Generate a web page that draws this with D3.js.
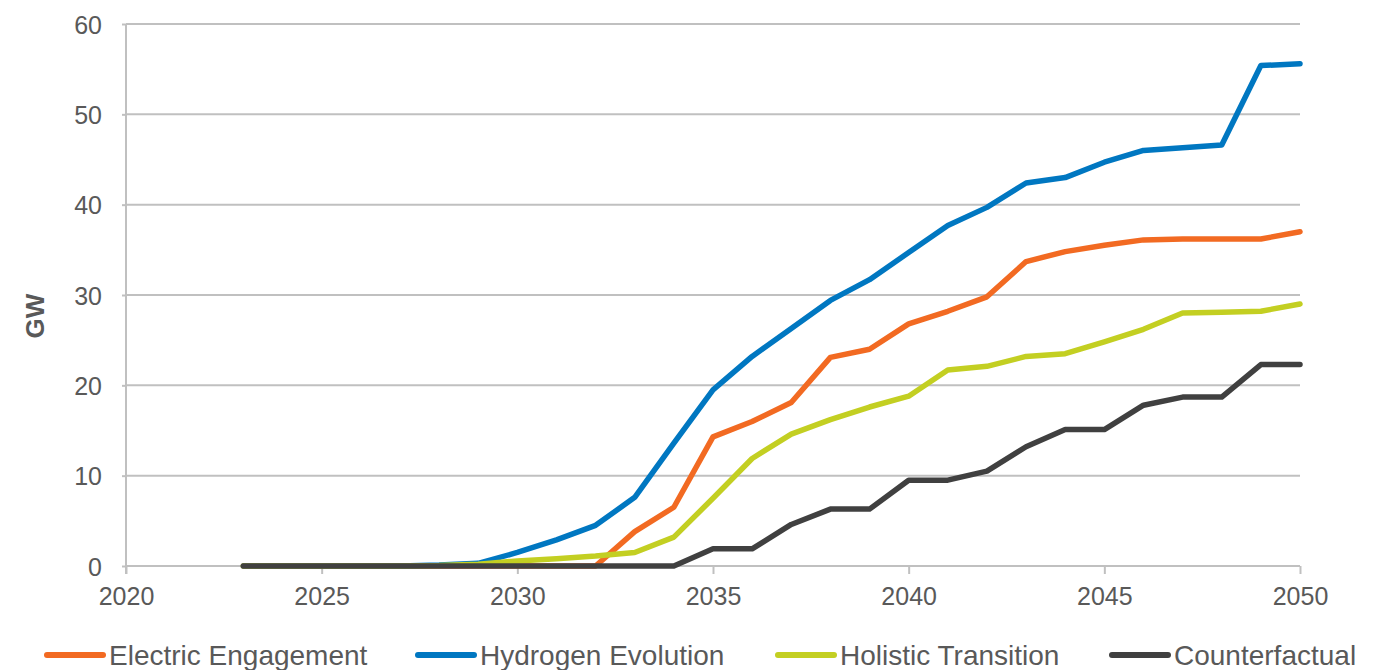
<!DOCTYPE html>
<html>
<head>
<meta charset="utf-8">
<script src="https://cdn.jsdelivr.net/npm/d3@7"></script>
<style>
  html, body { margin: 0; padding: 0; background: #fff; }
  svg { display: block; font-family: "Liberation Sans", Arial, sans-serif; }
</style>
</head>
<body>
<svg id="chart" width="1388" height="670"></svg>
<script>
const years = d3.range(2023, 2051);
const electricEngagement = [0,0,0,0,0,0,0,0,0,0,3.8,6.5,14.3,16.0,18.1,23.1,24.0,26.8,28.2,29.8,33.7,34.8,35.5,36.1,36.2,36.2,36.2,37.0];
const hydrogenEvolution  = [0,0,0,0,0,0.1,0.3,1.5,2.9,4.5,7.6,13.6,19.5,23.2,26.3,29.4,31.7,34.7,37.7,39.7,42.4,43.0,44.7,46.0,46.3,46.6,55.4,55.6];
const holisticTransition = [0,0,0,0,0,0.05,0.2,0.55,0.8,1.1,1.5,3.2,7.5,11.9,14.6,16.2,17.6,18.8,21.7,22.1,23.2,23.5,24.8,26.2,28.0,28.1,28.2,29.0];
const counterfactual     = [0,0,0,0,0,0,0,0,0,0,0,0,1.9,1.9,4.6,6.3,6.3,9.5,9.5,10.5,13.2,15.1,15.1,17.8,18.7,18.7,22.3,22.3];
const seriesNames = ["Electric Engagement","Hydrogen Evolution","Holistic Transition","Counterfactual"];
const seriesColors = ["#f26a22","#0077c1","#c3cf22","#404040"];
const xTicks = [2020,2025,2030,2035,2040,2045,2050];
const yTicks = [0,10,20,30,40,50,60];
const yLabel = "GW";

const seriesValues = [electricEngagement, hydrogenEvolution, holisticTransition, counterfactual];

const svg = d3.select("#chart");
const pLeft = 126, pRight = 1300, pTop = 24, pBottom = 566;
const x = d3.scaleLinear().domain([2020, 2050]).range([pLeft, pRight]);
const y = d3.scaleLinear().domain([0, 60]).range([pBottom, pTop]);
const textColor = "#595959";
const gridColor = "#c0c0c0";

// gridlines
svg.append("g").selectAll("line").data(yTicks.filter(d => d > 0)).join("line")
  .attr("x1", pLeft).attr("x2", pRight)
  .attr("y1", d => y(d)).attr("y2", d => y(d))
  .attr("stroke", gridColor).attr("stroke-width", 2);

// y axis
const yAxis = svg.append("g").attr("transform", `translate(${pLeft},0)`)
  .call(d3.axisLeft(y).tickValues(yTicks).tickSize(4).tickPadding(20));
yAxis.select(".domain").attr("stroke", gridColor).attr("stroke-width", 2).attr("d", `M0,${pTop}V${pBottom + 8}`);
yAxis.selectAll(".tick line").attr("stroke", gridColor).attr("stroke-width", 2);
yAxis.selectAll(".tick text").attr("fill", textColor).attr("font-size", 25)
  .attr("font-family", "Liberation Sans, Arial, sans-serif").attr("dy", "0.36em");

// x axis
const xAxis = svg.append("g").attr("transform", `translate(0,${pBottom})`)
  .call(d3.axisBottom(x).tickValues(xTicks).tickFormat(d3.format("d")).tickSize(8).tickPadding(13));
xAxis.select(".domain").attr("stroke", gridColor).attr("stroke-width", 2).attr("d", `M${pLeft},0H${pRight}`);
xAxis.selectAll(".tick line").attr("stroke", gridColor).attr("stroke-width", 2);
xAxis.selectAll(".tick text").attr("fill", textColor).attr("font-size", 25)
  .attr("font-family", "Liberation Sans, Arial, sans-serif");

// y label
svg.append("text")
  .attr("transform", `translate(44,316) rotate(-90)`)
  .attr("text-anchor", "middle")
  .attr("font-size", 26).attr("font-weight", "bold").attr("fill", textColor)
  .text(yLabel);

// lines
const line = d3.line().x((d, i) => x(years[i])).y(d => y(d));
svg.append("g").selectAll("path").data(seriesValues).join("path")
  .attr("d", d => line(d))
  .attr("fill", "none")
  .attr("stroke", (d, i) => seriesColors[i])
  .attr("stroke-width", 5.5)
  .attr("stroke-linejoin", "round")
  .attr("stroke-linecap", "round");

// legend
const legendX = [47, 418, 778, 1112];
const legend = svg.append("g").selectAll("g").data(seriesNames).join("g")
  .attr("transform", (d, i) => `translate(${legendX[i]},655)`);
legend.append("line").attr("x1", 0).attr("x2", 56).attr("y1", 0).attr("y2", 0)
  .attr("stroke", (d, i) => seriesColors[i]).attr("stroke-width", 6).attr("stroke-linecap", "round");
legend.append("text").attr("x", 62).attr("y", 10)
  .attr("font-size", 28).attr("fill", textColor).text(d => d);
</script>
</body>
</html>
